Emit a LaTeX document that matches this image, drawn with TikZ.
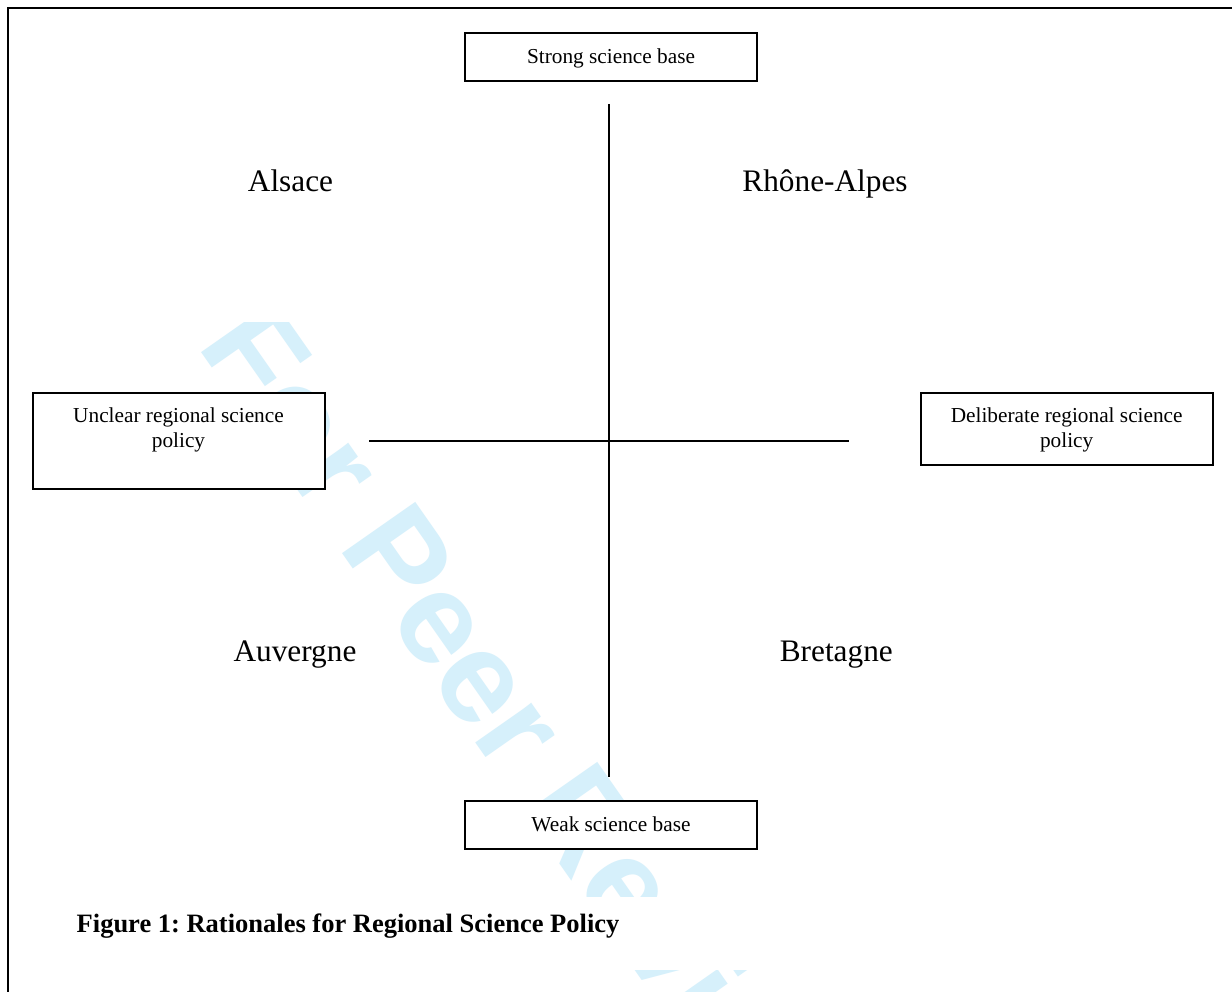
\documentclass[tikz,border=0pt]{standalone}
\usepackage{fontspec}
\setmainfont{Liberation Serif}
\newfontfamily\wmfont{Liberation Sans}
\definecolor{wmcol}{RGB}{214,240,251}
\frenchspacing
\begin{document}
\begin{tikzpicture}[x=1pt,y=-1pt,
  box/.style={draw=black, line width=2pt, fill=white, minimum width=292pt, inner sep=0pt},
  boxtext/.style={font=\fontsize{21.3}{24.5}\selectfont, inner sep=0pt, anchor=base},
  region/.style={font=\fontsize{31.3}{36}\selectfont, inner sep=0pt, anchor=base},
  axis/.style={line width=2pt},
  frameline/.style={line width=2pt}]
\useasboundingbox (0,0) rectangle (1232,992);
\fill[white] (0,0) rectangle (1232,992);
% watermark
\begin{scope}
  \clip (0,322) rectangle (1232,896) (0,970) rectangle (1232,992);
  \node[font=\wmfont\bfseries\fontsize{130}{130}\selectfont, text=wmcol, anchor=base west, inner sep=0pt, rotate=-55] (wmark) at (196.5,345) {For Peer Review};
\end{scope}
% frame
\coordinate (fbl) at (8,992);
\coordinate (ftl) at (8,8);
\coordinate (ftr) at (1232,8);
\draw[frameline] (fbl) -- (ftl) -- (ftr);
% axes
\coordinate (vt) at (609,104);
\coordinate (vb) at (609,777);
\coordinate (hl) at (369,441);
\coordinate (hr) at (849,441);
\draw[axis] (vt) -- (vb);
\draw[axis] (hl) -- (hr);
% boxes
\node[box, minimum height=48pt] (strong) at (611,57) {};
\node[boxtext] (strongt) at (611,63.3) {Strong science base};
\node[box, minimum height=48pt] (weak) at (611,825) {};
\node[boxtext] (weakt) at (611,831.7) {Weak science base};
\node[box, minimum height=96pt] (unclear) at (179,441) {};
\node[boxtext] (uncleart) at (178.5,422.7) {\begin{tabular}[t]{@{}c@{}}Unclear regional science\\policy\end{tabular}};
\node[box, minimum height=72pt] (delib) at (1067,429) {};
\node[boxtext] (delibt) at (1066.7,422.7) {\begin{tabular}[t]{@{}c@{}}Deliberate regional science\\policy\end{tabular}};
% regions
\node[region] (alsace) at (290.5,191.7) {Alsace};
\node[region] (rhone) at (825,191.7) {Rhône-Alpes};
\node[region] (auvergne) at (295,661.7) {Auvergne};
\node[region] (bretagne) at (836.3,661.7) {Bretagne};
% caption
\node[font=\bfseries\fontsize{26.5}{30}\selectfont, anchor=base west, inner sep=0pt] (caption) at (76.5,932) {Figure 1: Rationales for Regional Science Policy};
\end{tikzpicture}
\end{document}
